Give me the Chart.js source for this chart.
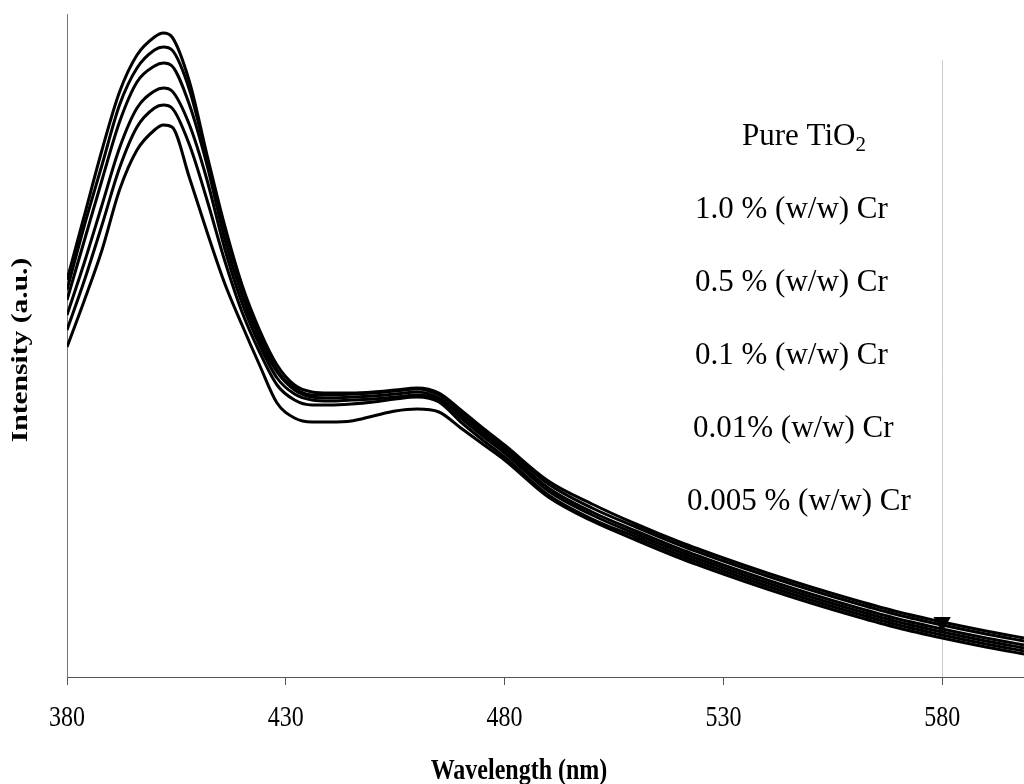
<!DOCTYPE html>
<html>
<head>
<meta charset="utf-8">
<script src="https://cdn.jsdelivr.net/npm/chart.js@4.4.0/dist/chart.umd.min.js"></script>
<style>
  body { margin: 0; background: #fff; }
  #contenedor { width: 1024px; height: 784px; }
</style>
</head>
<body>
<div id="contenedor"><canvas id="grafico" width="1024" height="784"></canvas></div>
<script>
// longitud de onda (nm)
const longitudes = [380, 384, 388, 392, 396, 400, 402, 404, 408, 412, 416, 420, 424, 428, 432, 436, 440, 445, 450, 455, 460, 465, 470, 475, 480, 490, 500, 510, 520, 530, 540, 550, 560, 570, 580, 590, 600];
const ticksX = [380, 430, 480, 530, 580];

const etiquetas = ['Pure TiO₂', '1.0 % (w/w) Cr', '0.5 % (w/w) Cr', '0.1 % (w/w) Cr', '0.01% (w/w) Cr', '0.005 % (w/w) Cr'];
const tituloX = 'Wavelength (nm)';
const tituloY = 'Intensity (a.u.)';

// intensidad (u.a.)
const tio2Puro = [397, 462, 527, 585, 622, 640, 644, 640, 595, 522, 452, 392, 347, 312, 292, 285, 284, 284, 285, 287, 289, 284, 267, 249, 232, 196, 173, 153, 135, 119, 104, 90, 77, 65, 55, 46, 38];
const cr10 = [387, 452, 512, 572, 609, 627, 630, 627, 587, 519, 449, 390, 342, 307, 289, 282, 282, 283, 284, 286, 288, 282, 265, 247, 230, 193, 169, 150, 132, 116, 101, 87, 74, 62, 52, 43, 35];
const cr05 = [377, 437, 497, 555, 595, 611, 614, 611, 572, 512, 439, 382, 337, 305, 287, 280, 279, 280, 281, 283, 285, 279, 262, 244, 227, 189, 165, 146, 128, 112, 97, 83, 70, 58, 48, 39, 31];
const cr01 = [362, 415, 472, 529, 569, 586, 589, 586, 552, 497, 429, 374, 332, 299, 283, 277, 276, 277, 278, 280, 282, 277, 259, 241, 224, 186, 162, 143, 125, 109, 94, 80, 67, 55, 45, 36, 28];
const cr001 = [347, 397, 452, 509, 550, 569, 572, 569, 532, 477, 417, 365, 325, 292, 277, 272, 272, 273, 275, 278, 280, 275, 255, 237, 220, 182, 158, 140, 122, 106, 91, 77, 64, 52, 42, 33, 25];
const cr0005 = [330, 377, 427, 487, 527, 547, 552, 550, 499, 445, 394, 352, 312, 274, 259, 255, 255, 256, 261, 266, 268, 265, 249, 233, 217, 180, 156, 137, 119, 103, 88, 74, 61, 49, 39, 30, 22];

const series = [tio2Puro, cr10, cr05, cr01, cr001, cr0005];

const fuenteSerif = '"Liberation Serif", "Times New Roman", serif';
const estiramiento = 1.23; // el texto de los ejes aparece estirado en vertical

const lineaGris = {
    id: 'lineaGris',
    beforeDatasetsDraw(chart) {
        const ctx = chart.ctx;
        const px = Math.round(chart.scales.x.getPixelForValue(580)) + 0.5;
        ctx.save();
        ctx.strokeStyle = '#cccccc';
        ctx.lineWidth = 1;
        ctx.beginPath();
        ctx.moveTo(px, 60);
        ctx.lineTo(px, chart.chartArea.bottom);
        ctx.stroke();
        ctx.restore();
    }
};

const textos = {
    id: 'textos',
    afterDraw(chart) {
        const ctx = chart.ctx;
        const escalaX = chart.scales.x;
        ctx.save();
        ctx.fillStyle = '#000';
        ctx.textBaseline = 'middle';

        // etiquetas del eje x
        ctx.textAlign = 'center';
        ctx.font = '24px ' + fuenteSerif;
        ticksX.forEach(v => {
            ctx.save();
            ctx.translate(escalaX.getPixelForValue(v), 718);
            ctx.scale(1, estiramiento);
            ctx.fillText(String(v), 0, 0);
            ctx.restore();
        });

        // títulos de los ejes
        ctx.font = 'bold 24px ' + fuenteSerif;
        ctx.save();
        ctx.translate(519, 771);
        ctx.scale(1, estiramiento);
        ctx.fillText(tituloX, 0, 0);
        ctx.restore();

        ctx.save();
        ctx.translate(21, 350);
        ctx.rotate(-Math.PI / 2);
        ctx.scale(estiramiento, 1);
        ctx.fillText(tituloY, 0, 0);
        ctx.restore();

        // leyenda como texto
        const izquierdas = [742, 695, 695, 695, 693, 687];
        ctx.textAlign = 'left';
        etiquetas.forEach((texto, i) => {
            const y = 137 + i * 73;
            ctx.font = '31px ' + fuenteSerif;
            if (texto.endsWith('₂')) {
                const base = texto.slice(0, -1);
                ctx.fillText(base, izquierdas[i], y);
                const ancho = ctx.measureText(base).width;
                ctx.font = '21px ' + fuenteSerif;
                ctx.fillText('2', izquierdas[i] + ancho, y + 8);
            } else {
                ctx.fillText(texto, izquierdas[i], y);
            }
        });
        ctx.restore();
    }
};

const ctx = document.getElementById('grafico').getContext('2d');

new Chart(ctx, {
    type: 'line',
    data: {
        datasets: series.map((valores, i) => ({
            label: etiquetas[i],
            data: longitudes.map((l, j) => ({ x: l, y: valores[j] })),
            borderColor: '#000',
            backgroundColor: '#000',
            borderWidth: 3,
            fill: false,
            cubicInterpolationMode: 'monotone',
            pointStyle: 'triangle',
            rotation: 180,
            pointRadius: i === 0 ? longitudes.map(l => (l === 580 ? 7 : 0)) : 0,
            pointHoverRadius: 0
        }))
    },
    options: {
        responsive: false,
        devicePixelRatio: 1,
        animation: false,
        layout: { padding: { top: 14, right: 0, bottom: 0, left: 0 } },
        plugins: {
            legend: { display: false },
            tooltip: { enabled: false }
        },
        scales: {
            x: {
                type: 'linear',
                min: 380,
                max: 598.7,
                afterBuildTicks: (escala) => {
                    escala.ticks = ticksX.map(v => ({ value: v }));
                },
                afterFit: (escala) => { escala.height = 107; },
                grid: { display: true, drawOnChartArea: false, drawTicks: true, tickLength: 8, color: '#555' },
                border: { display: true, color: '#555', width: 1 },
                ticks: { display: false },
                title: { display: false }
            },
            y: {
                min: 0,
                max: 663,
                afterFit: (escala) => { escala.width = 67; },
                grid: { display: false },
                border: { display: true, color: '#777', width: 1 },
                ticks: { display: false },
                title: { display: false }
            }
        }
    },
    plugins: [lineaGris, textos]
});
</script>
</body>
</html>
